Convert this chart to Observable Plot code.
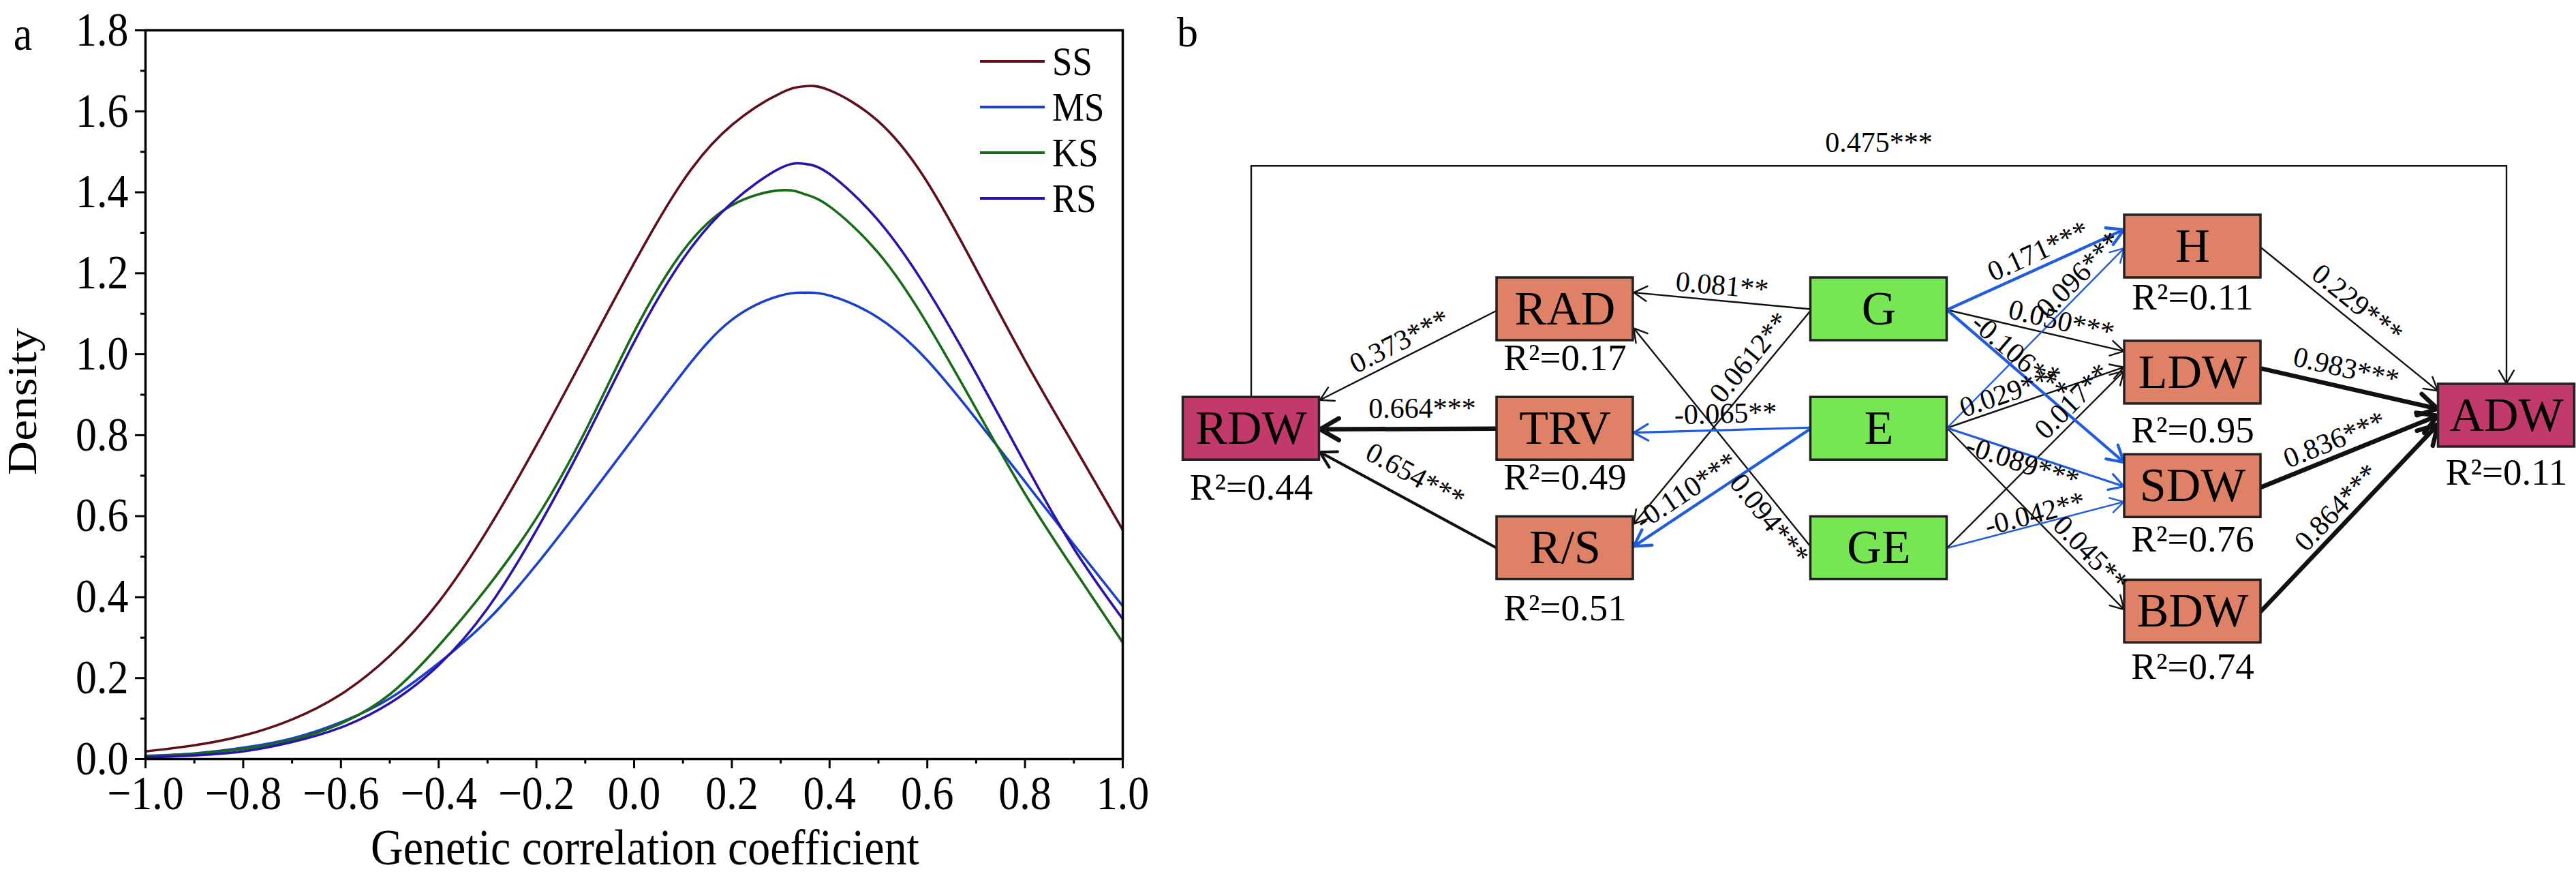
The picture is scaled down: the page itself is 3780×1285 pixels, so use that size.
<!DOCTYPE html>
<html>
<head>
<meta charset="utf-8">
<script src="https://cdn.jsdelivr.net/npm/d3@7"></script>
<script src="https://cdn.jsdelivr.net/npm/@observablehq/plot@0.6"></script>
<style>
  html, body { margin: 0; padding: 0; background: #fff; }
  #wrap { width: 3780px; height: 1285px; display: flex; flex-direction: row; }
  #pa { width: 1700px; height: 1285px; flex: 0 0 1700px; }
  #pb { width: 2080px; height: 1285px; flex: 0 0 2080px; }
  #pa svg, #pb svg { max-width: none !important; display: block; }
</style>
</head>
<body>
<div id="wrap"><div id="pa"></div><div id="pb"></div></div>
<script>
// ================= DATA: panel a (density of genetic correlation coefficients) =================
const corr   = [-1.0,-0.9,-0.8,-0.7,-0.6,-0.5,-0.4,-0.3,-0.2,-0.1,0.0,0.1,0.2,0.3,0.35,0.4,0.5,0.6,0.7,0.8,0.9,1.0];
const densSS = [0.019,0.034,0.058,0.098,0.160,0.255,0.388,0.566,0.775,1.000,1.225,1.428,1.566,1.645,1.662,1.652,1.575,1.425,1.210,0.985,0.775,0.566];
const densMS = [0.008,0.014,0.028,0.051,0.091,0.150,0.237,0.343,0.480,0.635,0.795,0.955,1.085,1.145,1.152,1.145,1.090,0.985,0.840,0.685,0.530,0.378];
const densKS = [0.007,0.013,0.025,0.047,0.088,0.160,0.280,0.425,0.595,0.810,1.055,1.255,1.368,1.405,1.395,1.365,1.250,1.075,0.865,0.655,0.468,0.288];
const densRS = [0.004,0.009,0.019,0.042,0.078,0.138,0.232,0.372,0.565,0.790,1.030,1.235,1.374,1.460,1.470,1.445,1.330,1.160,0.952,0.730,0.520,0.346];
const seriesNames = ["SS","MS","KS","RS"];
const xTicksMajor = [-1.0,-0.8,-0.6,-0.4,-0.2,0.0,0.2,0.4,0.6,0.8,1.0];
const xTicksMinor = [-0.9,-0.7,-0.5,-0.3,-0.1,0.1,0.3,0.5,0.7,0.9];
const yTicksMajor = [0.0,0.2,0.4,0.6,0.8,1.0,1.2,1.4,1.6,1.8];
const yTicksMinor = [0.1,0.3,0.5,0.7,0.9,1.1,1.3,1.5,1.7];
const xTitle = "Genetic correlation coefficient";
const yTitle = "Density";

// ================= DATA: panel b (path diagram) =================
const nodeNames = ["RDW","RAD","TRV","R/S","G","E","GE","H","LDW","SDW","BDW","ADW"];
const nodeKind  = ["total","trait","trait","trait","factor","factor","factor","trait","trait","trait","trait","total"];
const nodeR2    = [0.44,0.17,0.49,0.51,null,null,null,0.11,0.95,0.76,0.74,0.11];

const edgeFrom = ["RAD","TRV","R/S","G","GE","G","E","E","G","E","G","G","E","GE","E","GE","E","H","LDW","SDW","BDW","RDW"];
const edgeTo   = ["RDW","RDW","RDW","RAD","RAD","R/S","TRV","R/S","H","H","LDW","SDW","LDW","LDW","SDW","SDW","BDW","ADW","ADW","ADW","ADW","ADW"];
const edgeCoef = [0.373,0.664,0.654,0.081,0.094,0.0612,-0.065,-0.110,0.171,0.096,0.050,-0.106,0.029,0.017,-0.089,-0.042,0.045,0.229,0.983,0.836,0.864,0.475];
const edgeSig  = ["***","***","***","**","***","**","**","***","***","***","***","***","***","**","***","**","**","***","***","***","***","***"];

// ================= STYLES =================
const seriesColors = ["#5e0f1a","#1a40cc","#176b17","#2a12aa"];
const kindFill = {total: "#c23a6b", trait: "#de8167", factor: "#76e652"};
const blue = "#1f5ce0";
const edgeStyles = {
  k:  {stroke: "#111", sw: 2.4, head: 22},
  Km: {stroke: "#111", sw: 4.2, head: 26},
  K:  {stroke: "#111", sw: 6.5, head: 32},
  b0: {stroke: blue,   sw: 2.4, head: 22},
  b:  {stroke: blue,   sw: 3.2, head: 24},
  B:  {stroke: blue,   sw: 4.3, head: 27}
};
const edgeStyle = ["k","K","Km","k","k","k","b","B","B","b0","k","B","k","k","b","b0","k","k","K","K","K","k"];
const FONT = "'Liberation Serif', 'Times New Roman', serif";
// the lettering of the figure is vertically elongated
const STRETCH = {panelA: 1.12, node: 1.06, r2: 1.12, edge: 1.1, tag: 1.1};

// ================= LAYOUT (panel b) =================
const nodeCol = [0,1,1,1,2,2,2,3,3,3,3,4];
const nodeRow = [1.0,0,1,2,0,1,2,-0.525,0.53,1.48,2.53,0.89];
const r2Off   = [87,72,72,88,0,0,0,75,85,79,82,84];       // px below box centre
const BW = 200, BH = 92;                                  // box size, px
const fromOff = [2,0,0,0,-2,2,-1.5,0,1,-1,1,1,-1,0,-1,0,-1,1.5,-6,2,0];
const toOff   = [-41.5,1,34,-24.5,27,-34.5,6,-2,-25,2,-31,-34,-8,-3,1,23,-2,-35.5,-9.5,0,12.5];
const labT    = [0.507,0.42,0.526,0.507,0.168,0.27,0.477,0.6485,0.55,0.797,0.625,0.367,0.388,0.766,0.4425,0.511,0.748,0.483,0.457,0.45,0.494];
const labN    = [24,30,36,22,-22,25,24,25,23,20,22,17,20,22,-14,16,22,25,28,24,24];
const topRow  = -1.2;

// vertical elongation of texts about their own anchor
function stretchTexts(sel, k, alongRotated) {
  const num = v => (v != null && /^-?\d+(\.\d+)?$/.test(v.trim())) ? +v : 0;
  sel.each(function() {
    const t = this.getAttribute("transform") || "";
    const x = num(this.getAttribute("x")), y = num(this.getAttribute("y"));
    const s = (alongRotated && /rotate\(\s*-?90/.test(t)) ? `scale(${k},1)` : `scale(1,${k})`;
    this.setAttribute("transform", `${t} translate(${x},${y}) ${s} translate(${-x},${-y})`.trim());
  });
}

// ================= PANEL A =================
const curveRows = seriesNames.flatMap((s, i) =>
  corr.map((c, j) => ({series: s, x: c, y: [densSS, densMS, densKS, densRS][i][j]})));

const pa = Plot.plot({
  width: 1700, height: 1285,
  marginLeft: 213, marginRight: 53, marginTop: 44, marginBottom: 172,
  style: {fontFamily: FONT, fontSize: "62px", color: "#000", background: "#fff", overflow: "visible"},
  x: {domain: [-1, 1], label: null},
  y: {domain: [0, 1.8], label: null},
  color: {domain: seriesNames, range: seriesColors},
  marks: [
    Plot.line(curveRows, {x: "x", y: "y", stroke: "series", strokeWidth: 3.6, curve: "natural"}),
    Plot.axisX({ticks: xTicksMinor, tickSize: 7, tickFormat: () => "", strokeWidth: 3, label: null}),
    Plot.axisX({ticks: xTicksMajor, tickSize: 14, tickPadding: 10, tickFormat: d3.format(".1f"),
                strokeWidth: 3, fontSize: 62, label: null}),
    Plot.axisY({ticks: yTicksMinor, tickSize: 7, tickFormat: () => "", strokeWidth: 3, label: null}),
    Plot.axisY({ticks: yTicksMajor, tickSize: 15, tickPadding: 10, tickFormat: d3.format(".1f"),
                strokeWidth: 3, fontSize: 62, label: null}),
    Plot.frame({stroke: "#000", strokeWidth: 3.5}),
    Plot.text([xTitle], {text: d => d, frameAnchor: "bottom", textAnchor: "middle", lineAnchor: "middle",
                         dx: 16, dy: 131, fontSize: 66}),
    Plot.text([yTitle], {text: d => d, frameAnchor: "left", textAnchor: "middle", lineAnchor: "middle",
                         dx: -180, dy: 10, rotate: -90, fontSize: 62}),
    Plot.text(["a"], {text: d => d, frameAnchor: "top-left", textAnchor: "middle", lineAnchor: "middle",
                      dx: -180, dy: 6, fontSize: 62})
  ]
});
// legend (line swatches) inside the plot area
{
  const lg = d3.select(pa).append("g").attr("font-family", FONT);
  seriesNames.forEach((s, i) => {
    const y = 90 + i * 67;
    lg.append("line").attr("x1", 1438).attr("x2", 1533).attr("y1", y).attr("y2", y)
      .attr("stroke", seriesColors[i]).attr("stroke-width", 4);
    lg.append("text").attr("x", 1544).attr("y", y).attr("dy", "0.34em")
      .attr("text-anchor", "start").attr("font-size", 53).attr("fill", "#000").text(s);
  });
}
stretchTexts(d3.select(pa).selectAll("text"), STRETCH.panelA, true);
document.getElementById("pa").appendChild(pa);

// ================= PANEL B =================
const xDomB = [-135.5 / 460.5, (2080 - 135.5) / 460.5];
const yDomB = [-453 / 175.25, (1285 - 453) / 175.25];
const XB = Plot.scale({x: {domain: xDomB, range: [0, 2080]}});
const YB = Plot.scale({y: {domain: yDomB, range: [0, 1285]}});
const ix = p => XB.invert(p), iy = p => YB.invert(p);

const nodes = nodeNames.map((n, i) => {
  const px = XB.apply(nodeCol[i]), py = YB.apply(nodeRow[i]);
  return {name: n, kind: nodeKind[i], r2: nodeR2[i], px, py,
          x: nodeCol[i], y: nodeRow[i],
          x1: ix(px - BW / 2), x2: ix(px + BW / 2), y1: iy(py - BH / 2), y2: iy(py + BH / 2),
          ry: iy(py + r2Off[i])};
});
const byName = Object.fromEntries(nodes.map(d => [d.name, d]));

function fmtCoef(v) {
  const dec = Math.max(3, (String(Math.abs(v)).split(".")[1] || "").length);
  return (v < 0 ? "-" : "") + Math.abs(v).toFixed(dec);
}

const edges = [];
for (let i = 0; i < edgeFrom.length - 1; i++) {
  const f = byName[edgeFrom[i]], t = byName[edgeTo[i]];
  const leftward = t.px < f.px;
  const sx = f.px + (leftward ? -BW / 2 : BW / 2), sy = f.py + fromOff[i];
  const tx = t.px + (leftward ? BW / 2 : -BW / 2), ty = t.py + toOff[i];
  const dx = tx - sx, dy = ty - sy;
  let a = Math.atan2(dy, dx);
  if (a > Math.PI / 2) a -= Math.PI;
  if (a < -Math.PI / 2) a += Math.PI;
  const lx = sx + labT[i] * dx + labN[i] * Math.sin(a);
  const ly = sy + labT[i] * dy - labN[i] * Math.cos(a);
  edges.push({i, style: edgeStyle[i], label: fmtCoef(edgeCoef[i]) + edgeSig[i],
              x1: ix(sx), y1: iy(sy), x2: ix(tx), y2: iy(ty),
              lx: ix(lx), ly: iy(ly), rot: a * 180 / Math.PI});
}
// top connector RDW -> ADW
const last = edgeFrom.length - 1;
const rdw = byName[edgeFrom[last]], adw = byName[edgeTo[last]];
const topY = YB.apply(topRow);
const topPath = [
  {x: ix(rdw.px), y: iy(rdw.py - BH / 2)},
  {x: ix(rdw.px), y: iy(topY)},
  {x: ix(adw.px), y: iy(topY)}
];
const topArrow = [{x1: ix(adw.px), y1: iy(topY), x2: ix(adw.px), y2: iy(adw.py - BH / 2)}];
const topLabel = [{x: ix((rdw.px + adw.px) / 2), y: iy(topY - 34),
                   label: fmtCoef(edgeCoef[last]) + edgeSig[last]}];

const arrowMarks = Object.entries(edgeStyles).map(([k, s]) =>
  Plot.arrow(edges.filter(e => e.style === k), {
    x1: "x1", y1: "y1", x2: "x2", y2: "y2",
    stroke: s.stroke, strokeWidth: s.sw, headLength: s.head * 1.5 / s.sw, headAngle: 60, insetEnd: 1
  }));

const pb = Plot.plot({
  width: 2080, height: 1285, margin: 0,
  style: {fontFamily: FONT, color: "#000", background: "#fff", overflow: "visible"},
  x: {domain: xDomB, range: [0, 2080], axis: null},
  y: {domain: yDomB, range: [0, 1285], axis: null},
  marks: [
    ...arrowMarks,
    Plot.line(topPath, {x: "x", y: "y", stroke: "#111", strokeWidth: 2.4}),
    Plot.arrow(topArrow, {x1: "x1", y1: "y1", x2: "x2", y2: "y2", stroke: "#111", strokeWidth: 2.4,
                          headLength: 22 * 1.5 / 2.4, headAngle: 60, insetEnd: 1}),
    Plot.rect(nodes, {x1: "x1", x2: "x2", y1: "y1", y2: "y2", fill: d => kindFill[d.kind],
                      stroke: "#222", strokeWidth: 3.5}),
    Plot.text(nodes, {x: "x", y: "y", text: "name", fontSize: 70, fill: "#000", ariaLabel: "node-label"}),
    Plot.text(nodes.filter(d => d.r2 != null), {x: "x", y: "ry", text: d => "R\u00b2=" + d.r2.toFixed(2),
                                                fontSize: 55, fill: "#000", ariaLabel: "r2-label"}),
    Plot.text(edges, {x: "lx", y: "ly", text: "label", rotate: "rot", fontSize: 42, fill: "#000",
                      ariaLabel: "edge-label"}),
    Plot.text(topLabel, {x: "x", y: "y", text: "label", fontSize: 42, fill: "#000", ariaLabel: "edge-label"}),
    Plot.text(["b"], {text: d => d, frameAnchor: "top-left", textAnchor: "middle", lineAnchor: "middle",
                      dx: 42, dy: 48, fontSize: 62, ariaLabel: "tag"})
  ]
});
stretchTexts(d3.select(pb).selectAll('g[aria-label="node-label"] text'), STRETCH.node, false);
stretchTexts(d3.select(pb).selectAll('g[aria-label="r2-label"] text'), STRETCH.r2, false);
stretchTexts(d3.select(pb).selectAll('g[aria-label="edge-label"] text'), STRETCH.edge, false);
stretchTexts(d3.select(pb).selectAll('g[aria-label="tag"] text'), STRETCH.tag, false);
document.getElementById("pb").appendChild(pb);
</script>
</body>
</html>
